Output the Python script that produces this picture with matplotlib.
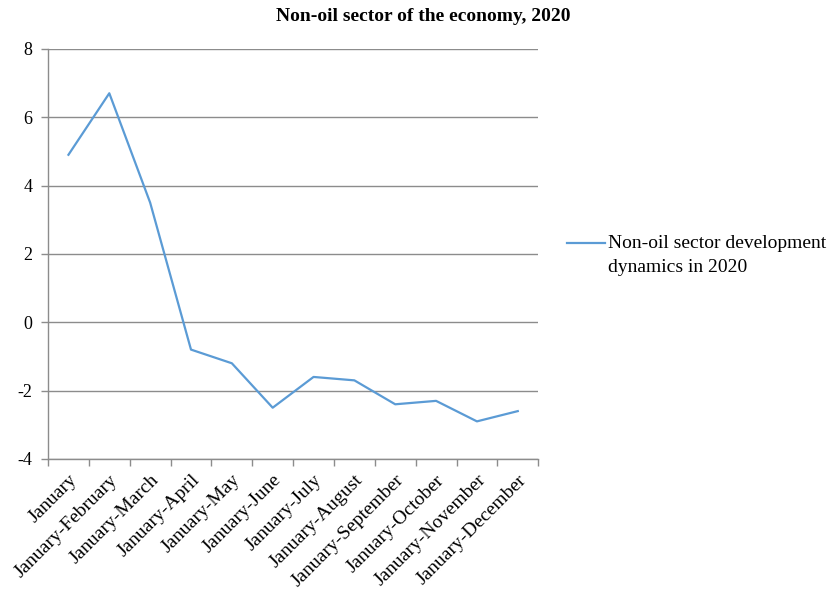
import matplotlib.pyplot as plt
from matplotlib.lines import Line2D
import numpy as np

# data
periods = ['January', 'January-February', 'January-March', 'January-April',
           'January-May', 'January-June', 'January-July', 'January-August',
           'January-September', 'January-October', 'January-November',
           'January-December']
values = [4.9, 6.7, 3.5, -0.8, -1.2, -2.5, -1.6, -1.7, -2.4, -2.3, -2.9, -2.6]
series_name = 'Non-oil sector development\ndynamics in 2020'
title = 'Non-oil sector of the economy, 2020'

plt.rcParams['font.family'] = ['Liberation Serif', 'DejaVu Serif']
plt.rcParams['axes.unicode_minus'] = False

fig = plt.figure(figsize=(8.28, 5.91), dpi=100)
ax = fig.add_axes([0.058, 0.2234, 0.592, 0.694])

x = np.arange(len(periods))
ax.plot(x, values, color='#5B9BD5', linewidth=1.6)

ax.set_xlim(-0.5, len(periods) - 0.5)
ax.set_ylim(-4, 8)
ax.set_yticks(np.arange(-4, 9, 2))
ax.yaxis.grid(True, color='#8c8c8c', linewidth=1)
ax.set_axisbelow(True)

# category labels at the centres, tick marks at the boundaries
ax.set_xticks(x)
ax.set_xticklabels(periods, rotation=45, ha='right', rotation_mode='anchor', fontsize=14)
ax.set_xticks(np.arange(-0.5, len(periods), 1), minor=True)
ax.tick_params(axis='x', which='major', length=0, pad=9)
ax.tick_params(axis='x', which='minor', length=5, color='#8c8c8c', width=1)
ax.tick_params(axis='y', length=5, color='#8c8c8c', width=1, labelsize=13, pad=6)

for s in ['top', 'right']:
    ax.spines[s].set_visible(False)
for s in ['left', 'bottom']:
    ax.spines[s].set_color('#8c8c8c')
    ax.spines[s].set_linewidth(1)

fig.text(0.511, 0.972, title, ha='center', va='center', fontsize=14, fontweight='bold')

# legend, drawn by hand so the line sits on the first text line
fig.add_artist(Line2D([567 / 828, 605 / 828], [1 - 243 / 591, 1 - 243 / 591],
                      color='#5B9BD5', linewidth=1.6))
fig.text(608 / 828, 1 - 235 / 591, series_name, ha='left', va='top',
         fontsize=14, linespacing=1.5)

fig.savefig('out.png', dpi=100)
